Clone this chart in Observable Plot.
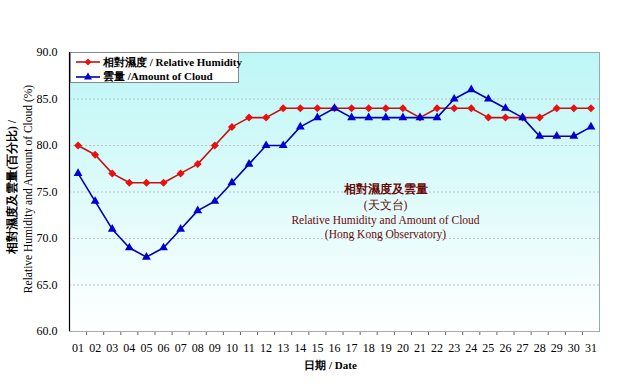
<!DOCTYPE html>
<html><head><meta charset="utf-8">
<script src="https://cdn.jsdelivr.net/npm/d3@7"></script>
<script src="https://cdn.jsdelivr.net/npm/@observablehq/plot@0.6"></script>
<style>
body{margin:0;background:#fff;}
#wrap{position:relative;width:635px;height:390px;font-family:"Liberation Serif","DejaVu Serif",serif;}
#legend{position:absolute;left:70px;top:52px;width:169px;height:31px;background:#fff;border:1px solid #888;box-sizing:border-box;font-size:11px;font-weight:bold;color:#000;}
#legend .row{position:absolute;left:5px;height:14px;display:flex;align-items:center;white-space:nowrap;}
#legend svg{margin-right:3px;}
</style></head>
<body><div id="wrap"><div id="chart"></div>
<div id="legend">
<div class="row" style="top:2px"><svg width="24" height="10"><line x1="0" y1="5" x2="24" y2="5" stroke="#c81010" stroke-width="1.6"/><path d="M12,1.5 L15.5,5 L12,8.5 L8.5,5Z" fill="#e81010"/></svg>相對濕度 / Relative Humidity</div>
<div class="row" style="top:16px"><svg width="24" height="10"><line x1="0" y1="6" x2="24" y2="6" stroke="#0000b0" stroke-width="1.6"/><path d="M12,1.5 L16,8.5 L8,8.5Z" fill="#0000d0"/></svg>雲量 /Amount of Cloud</div>
</div></div>
<script>
const days = d3.range(1, 32);
const dayLabels = days.map(d => String(d).padStart(2, "0"));
const humidity = [80,79,77,76,76,76,77,78,80,82,83,83,84,84,84,84,84,84,84,84,83,84,84,84,83,83,83,83,84,84,84];
const cloud = [77,74,71,69,68,69,71,73,74,76,78,80,80,82,83,84,83,83,83,83,83,83,85,86,85,84,83,81,81,81,82];
const yTicks = [60,65,70,75,80,85,90];
const annotationZh = "相對濕度及雲量";
const annotationRest = "(天文台)\nRelative Humidity and Amount of Cloud\n(Hong Kong Observatory)";
const yTitle1 = "相對濕度及雲量(百分比) /";
const yTitle2 = "Relative Humidity and Amount of Cloud (%)";
const xTitle = "日期 / Date";

const rh = days.map((d,i) => ({day:d, v:humidity[i]}));
const cl = days.map((d,i) => ({day:d, v:cloud[i]}));

const chart = Plot.plot({
  width: 635, height: 390,
  marginLeft: 69, marginRight: 36, marginTop: 52, marginBottom: 59,
  style: {fontFamily: '"Liberation Serif","DejaVu Serif",serif', fontSize: "12px", background: "transparent"},
  x: {domain: [0.5, 31.5]},
  y: {domain: [60, 90]},
  marks: [
    Plot.frame({fill: "#fff", stroke: "none"}),
    Plot.gridY(yTicks.filter(t => t>60 && t<90), {stroke: "#b4b4b4", strokeOpacity: 1, strokeDasharray: "2,2", strokeWidth: 0.8}),
    Plot.frame({stroke: "#9aa", strokeWidth: 1}),
    Plot.axisY(yTicks, {tickFormat: d3.format(".1f"), tickSize: 0, tickPadding: 12, label: null, fontSize: 12}),
    Plot.axisX(days, {tickFormat: (d,i) => dayLabels[i], tickSize: 0, tickPadding: 12, label: null, fontSize: 12}),
    Plot.axisX(d3.range(1.5, 31, 1), {tickFormat: () => "", tickSize: 4, tickPadding: 0, label: null, stroke: "#666"}),
    Plot.ruleY([60], {stroke: "#aaa", strokeWidth: 1.2}),
    Plot.ruleX([0.5], {stroke: "#000", strokeWidth: 1.2}),
    Plot.line(rh, {x: "day", y: "v", stroke: "#c81010", strokeWidth: 1.6}),
    Plot.dot(rh, {x: "day", y: "v", symbol: "diamond2", r: 3.6, fill: "#e81010", stroke: "none"}),
    Plot.line(cl, {x: "day", y: "v", stroke: "#0000b0", strokeWidth: 1.6}),
    Plot.dot(cl, {x: "day", y: "v", symbol: "triangle2", r: 4.2, fill: "#0000d0", stroke: "none"}),
    Plot.text([annotationZh], {frameAnchor: "middle", dx: 51, dy: -2.5, fill: "#6a0808", fontSize: 11.5, fontWeight: "bold", textAnchor: "middle"}),
    Plot.text([annotationRest], {frameAnchor: "middle", dx: 51, dy: 27, fill: "#6a0808", fontSize: 11.5, lineHeight: 1.27, textAnchor: "middle"}),
    Plot.text([yTitle1], {frameAnchor: "left", dx: -57, dy: -5, rotate: -90, textAnchor: "middle", fontSize: 11.5, fontWeight: "bold", fill: "#000"}),
    Plot.text([yTitle2], {frameAnchor: "left", dx: -41, dy: -3, rotate: -90, textAnchor: "middle", fontSize: 11.5, fill: "#000"}),
    Plot.text([xTitle], {frameAnchor: "bottom", dx: -4, dy: 37, fontSize: 11, fontWeight: "bold", fill: "#000"})
  ]
});
const svg = d3.select(chart);
const defs = svg.insert("defs", ":first-child");
const g = defs.append("linearGradient").attr("id", "bgGrad").attr("x1", 0).attr("y1", 0).attr("x2", 0).attr("y2", 1);
g.append("stop").attr("offset", "0%").attr("stop-color", "#bdf6f6");
g.append("stop").attr("offset", "100%").attr("stop-color", "#ffffff");
document.getElementById("chart").appendChild(chart);
const frames = chart.querySelectorAll('[aria-label="frame"]');
if (frames.length) { frames[0].setAttribute("fill", "url(#bgGrad)"); const r = frames[0].querySelector("rect"); if (r) r.setAttribute("fill","url(#bgGrad)"); }
</script></body></html>
